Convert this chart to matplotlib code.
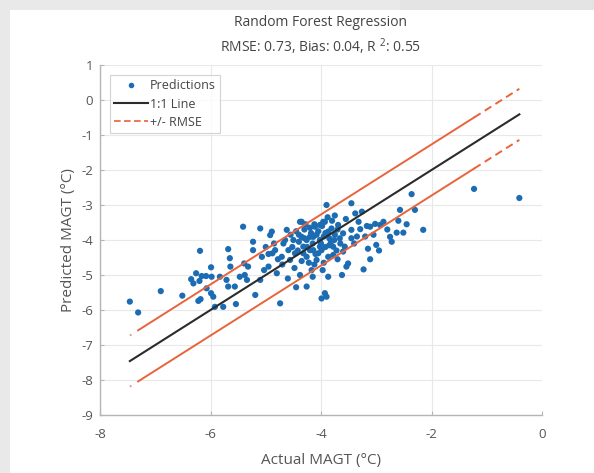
import numpy as np
import matplotlib
matplotlib.use("Agg")
import matplotlib.pyplot as plt
from matplotlib.lines import Line2D
from matplotlib.patches import Rectangle

plt.rcParams['font.family'] = ['Open Sans', 'DejaVu Sans']
plt.rcParams['mathtext.default'] = 'regular'

# ---- data ----
actual = [
    -7.46, -7.31, -6.90, -6.51, -6.19, -6.26, -6.35, -6.31, -6.20, -6.16,
    -6.08, -5.99, -5.98, -6.22, -6.18, -6.07, -5.99, -5.95, -5.92, -5.83,
    -5.77, -5.68, -5.65, -5.64, -5.71, -5.68, -5.56, -5.54, -5.41, -5.47,
    -5.38, -5.34, -5.39, -5.32, -5.23, -5.23, -5.19, -5.10, -5.07, -5.10,
    -5.03, -4.95, -4.92, -4.89, -4.88, -4.83, -4.80, -4.74, -4.71, -4.68,
    -4.62, -4.59, -4.56, -4.50, -4.47, -4.38, -4.35, -4.32, -4.26, -4.20,
    -4.14, -4.11, -4.08, -4.02, -3.99, -3.93, -3.90, -3.87, -3.90, -3.97,
    -3.45, -2.36, -2.30, -2.57, -2.15, -2.51, -2.63, -2.75, -2.72, -3.00,
    -3.11, -3.23, -3.51, -3.54, -3.87, -3.93, -3.99, -2.87, -2.93, -3.02,
    -3.11, -3.17, -3.29, -3.38, -3.26, -3.32, -3.45, -3.60, -3.69, -3.66,
    -3.57, -3.45, -3.78, -3.78, -3.60, -4.02, -3.96, -4.14, -4.26, -4.02,
    -4.05, -4.20, -4.32, -3.87, -3.81, -4.35, -4.26, -4.17, -1.23, -0.41,
    -4.45, -4.40, -4.30, -4.25, -4.18, -4.15, -4.10, -4.05, -4.00, -3.95,
    -3.92, -3.85, -3.82, -3.75, -3.72, -3.70, -3.65, -4.55, -4.52, -4.42,
    -4.35, -4.28, -4.22, -4.12, -3.98, -3.88, -3.80, -3.75, -4.65, -4.70,
    -4.78, -4.85, -4.95, -5.00, -4.48, -4.38, -4.60, -4.45, -4.15, -3.95,
    -3.70, -3.62, -3.40, -3.35, -3.20, -3.15, -3.05, -2.95, -2.80, -2.45,
    -2.60, -3.55, -4.20, -4.08, -3.92, -4.30, -4.40, -3.85, -3.76, -4.12,
]
predicted = [
    -5.76, -6.07, -5.46, -5.59, -4.31, -4.95, -5.12, -5.24, -5.17, -5.03,
    -5.03, -4.78, -5.05, -5.74, -5.69, -5.38, -5.52, -5.62, -5.91, -5.05,
    -5.91, -4.26, -4.52, -4.76, -5.14, -5.33, -5.33, -5.83, -3.62, -5.05,
    -5.00, -5.14, -4.67, -4.76, -4.05, -4.29, -5.57, -3.67, -4.48, -5.14,
    -4.86, -4.76, -3.86, -3.76, -4.38, -4.29, -4.95, -5.81, -4.48, -4.10,
    -3.71, -4.29, -4.57, -4.00, -4.38, -3.48, -3.91, -4.19, -4.48, -3.91,
    -4.29, -3.62, -4.57, -4.00, -4.29, -3.48, -3.00, -4.48, -5.62, -4.86,
    -2.95, -2.69, -3.14, -3.14, -3.71, -3.79, -3.79, -3.91, -4.05, -4.14,
    -4.55, -4.84, -4.67, -4.76, -5.05, -5.52, -5.67, -3.48, -3.57, -3.54,
    -3.62, -3.60, -3.69, -3.24, -3.19, -3.48, -3.71, -3.81, -3.57, -3.95,
    -4.19, -3.95, -4.19, -4.43, -4.33, -3.57, -3.48, -3.91, -4.00, -4.19,
    -4.38, -4.29, -4.38, -3.76, -3.67, -3.48, -5.33, -4.86, -2.54, -2.80,
    -3.75, -4.05, -3.70, -4.20, -3.80, -4.10, -4.40, -3.75, -4.10, -3.90,
    -4.20, -3.95, -4.05, -3.85, -4.30, -3.70, -4.10, -3.85, -4.20, -4.30,
    -4.60, -3.55, -4.65, -4.70, -3.60, -3.35, -3.45, -3.30, -4.00, -4.70,
    -4.55, -4.10, -4.40, -4.20, -4.80, -5.00, -5.10, -5.35, -5.05, -4.65,
    -4.55, -5.00, -4.10, -3.90, -3.90, -4.25, -3.85, -4.30, -3.70, -3.55,
    -3.45, -3.40, -3.65, -3.85, -3.80, -3.95, -3.85, -4.15, -4.00, -3.55,
]
rmse = 0.73
bias = 0.04
r2 = 0.55
title_lines = ["Random Forest Regression", f"RMSE: {rmse:.2f}, Bias: {bias:.2f}, R $^2$: {r2:.2f}"]
xticks = [-8, -6, -4, -2, 0]
yticks = list(range(-9, 2))

# ---- figure ----
W, H = 594, 473
fig = plt.figure(figsize=(W / 100, H / 100), dpi=100, facecolor='#e9e9e9')
fig.patches.append(Rectangle((10 / W, 0), 1, (H - 10) / H, transform=fig.transFigure,
                             facecolor='white', edgecolor='none', zorder=-10))
fig.patches.append(Rectangle((400 / W, 1 - 10 / H), 1, 10 / H, transform=fig.transFigure,
                             facecolor='#e4e4e4', edgecolor='none', zorder=-10))

ax = fig.add_axes([100 / W, 1 - 415 / H, 442 / W, 350 / H])
ax.set_facecolor('white')

blue = '#1c6cb3'
orange = '#e8643a'

ax.scatter(actual, predicted, s=20, color=blue, edgecolors='none', zorder=3)

xs = np.unique(np.array(actual))
ax.plot(xs, xs, color='#2b2b2b', lw=1.5, zorder=4)
for off in (rmse, -rmse):
    # dense interior drawn continuous, sparse end segments dashed
    ax.plot(xs[1:-1], xs[1:-1] + off, color=orange, lw=1.4, zorder=4)
    ax.plot(xs[-2:], xs[-2:] + off, color=orange, lw=1.4, ls=(0, (4, 2.5)), zorder=4)
    ax.plot(xs[:2], xs[:2] + off, color='#d9a090', lw=1.4, ls=(0, (1, 6)), zorder=4)

ax.set_xlim(-8, 0)
ax.set_ylim(-9, 1)
ax.set_xticks(xticks)
ax.set_yticks(yticks)
ax.set_xticklabels([str(t) for t in xticks])
ax.set_yticklabels([str(t) for t in yticks])
ax.grid(True, color='#e8e8e8', lw=0.8, zorder=0)
ax.set_axisbelow(True)
for s in ('top', 'right'):
    ax.spines[s].set_visible(False)
for s in ('left', 'bottom'):
    ax.spines[s].set_color('#b5b5b5')
    ax.spines[s].set_linewidth(1.0)
ax.tick_params(direction='in', length=3, color='#b5b5b5', labelcolor='#555555', labelsize=9.5)
ax.tick_params(axis='x', pad=9)
ax.tick_params(axis='y', pad=5)

ax.set_xlabel('Actual MAGT (°C)', fontsize=11, color='#555555', labelpad=9)
ax.set_ylabel('Predicted MAGT (°C)', fontsize=11, color='#555555', labelpad=4)

ax.text(0.5, 1 + 42 / 350, title_lines[0], transform=ax.transAxes, ha='center', va='center',
        fontsize=10, color='#444444')
ax.text(0.5, 1 + 18 / 350, title_lines[1], transform=ax.transAxes, ha='center', va='center',
        fontsize=10, color='#444444')

handles = [
    Line2D([], [], ls='none', marker='o', ms=4, color=blue, markeredgecolor='none'),
    Line2D([], [], color='#2b2b2b', lw=1.5),
    Line2D([], [], color=orange, lw=1.2, ls=(0, (4, 2))),
]
leg = ax.legend(handles, ['Predictions', '1:1 Line', '+/- RMSE'], loc='upper left',
                bbox_to_anchor=(10 / 442, 1 - 10 / 350), borderaxespad=0, fontsize=9,
                frameon=True, fancybox=False, handlelength=2.7, handletextpad=0.15,
                borderpad=0.35, labelspacing=0.42)
leg.get_frame().set_edgecolor('#c8c8c8')
leg.get_frame().set_linewidth(0.8)
for t in leg.get_texts():
    t.set_color('#444444')

fig.savefig('out.png', dpi=100, facecolor=fig.get_facecolor())
